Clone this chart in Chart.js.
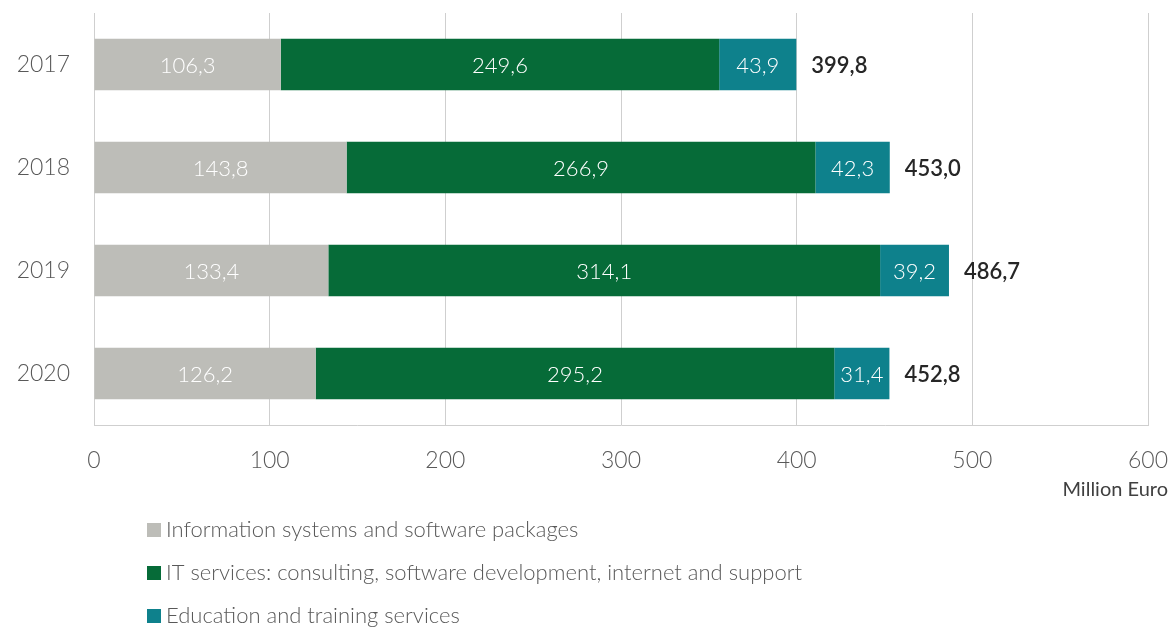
<!DOCTYPE html>
<html>
<head>
<meta charset="utf-8">
<script src="https://cdn.jsdelivr.net/npm/chart.js@4/dist/chart.umd.min.js"></script>
<style>
  html,body{margin:0;padding:0;background:#fff}
  #wrap{position:relative;width:1173px;height:627px}
</style>
</head>
<body>
<div id="wrap"><canvas id="ch"></canvas></div>
<script>
// ===== datos =====
const years=['2017','2018','2019','2020'];
const infoSys=[106.3,143.8,133.4,126.2];
const itServ=[249.6,266.9,314.1,295.2];
const eduServ=[43.9,42.3,39.2,31.4];
const totals=[399.8,453.0,486.7,452.8];
const xTicks=[0,100,200,300,400,500,600];
const seriesNames=['Information systems and software packages','IT services: consulting, software development, internet and support','Education and training services'];
const colors=['#bdbdb8','#066b38','#0e818c'];

const FONT='Lato, "Open Sans", sans-serif';
const fmt=v=>v.toFixed(1).replace('.',',');

// etiquetas dentro de barras + totales + leyenda
const labelsPlugin={
  id:'labelsPlugin',
  afterDatasetsDraw(chart){
    const ctx=chart.ctx;
    ctx.save();
    ctx.textBaseline='middle';
    chart.data.datasets.forEach((ds,i)=>{
      chart.getDatasetMeta(i).data.forEach((bar,j)=>{
        ctx.font='300 22px '+FONT;
        ctx.fillStyle='#ffffff';
        ctx.textAlign='center';
        ctx.fillText(fmt(ds.data[j]),(bar.x+bar.base)/2,bar.y+1);
      });
    });
    const last=chart.getDatasetMeta(chart.data.datasets.length-1);
    last.data.forEach((bar,j)=>{
      ctx.font='600 22px '+FONT;
      ctx.fillStyle='#262626';
      ctx.textAlign='left';
      ctx.fillText(fmt(totals[j]),bar.x+15,bar.y+1);
    });
    // unidad
    ctx.font='20px '+FONT;
    ctx.fillStyle='#404040';
    ctx.textAlign='right';
    ctx.fillText('Million Euro',1168,490);
    // leyenda vertical
    ctx.font='300 22px '+FONT;
    ctx.textAlign='left';
    chart.data.datasets.forEach((ds,i)=>{
      const y=530+i*43;
      ctx.fillStyle=ds.backgroundColor;
      ctx.fillRect(147,y-7,14,14);
      ctx.fillStyle='#595959';
      ctx.fillText(ds.label,166,y);
    });
    ctx.restore();
  }
};

const el=document.getElementById('ch');
new Chart(el,{type:'bar',
  data:{labels:years,datasets:[
    {label:seriesNames[0],data:infoSys,backgroundColor:colors[0]},
    {label:seriesNames[1],data:itServ,backgroundColor:colors[1]},
    {label:seriesNames[2],data:eduServ,backgroundColor:colors[2]}
  ]},
  options:{indexAxis:'y',responsive:true,maintainAspectRatio:false,animation:false,
    categoryPercentage:1,barPercentage:0.5,
    layout:{padding:{left:0,right:25,top:13,bottom:152}},
    plugins:{legend:{display:false},tooltip:{enabled:false}},
    scales:{
      x:{stacked:true,min:0,max:600,
        afterBuildTicks:s=>{s.ticks=xTicks.map(v=>({value:v}));},
        afterFit:s=>{s.height=50;s.paddingLeft=0;s.paddingRight=0;},
        ticks:{color:'#595959',font:{size:23,family:FONT,weight:300},padding:22},
        grid:{color:'#cfcfcf',lineWidth:1,drawTicks:false},
        border:{color:'#cfcfcf'}},
      y:{stacked:true,
        afterFit:s=>{s.width=94;s.paddingTop=0;s.paddingBottom=0;},
        ticks:{color:'#595959',font:{size:23,family:FONT,weight:300},padding:24},
        grid:{display:false,drawTicks:false},
        border:{color:'#cfcfcf'}}
    }},
  plugins:[labelsPlugin]
});
</script>
</body>
</html>
